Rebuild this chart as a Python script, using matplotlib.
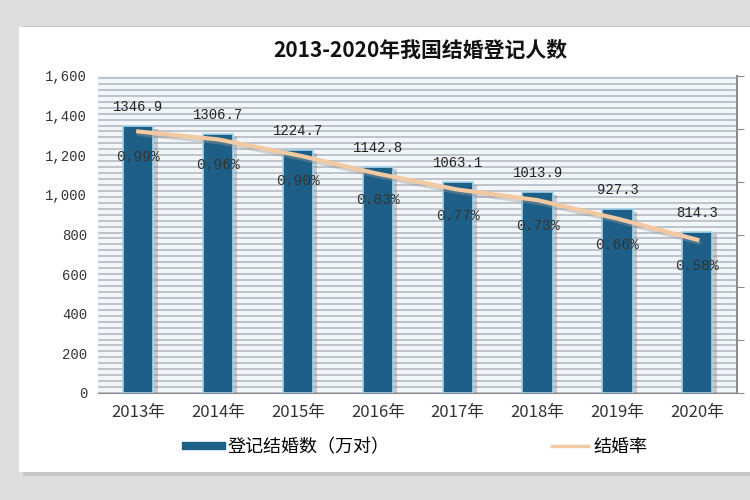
import matplotlib
matplotlib.use('Agg')
import matplotlib.pyplot as plt
import matplotlib.patheffects as pe
from matplotlib.lines import Line2D
from matplotlib.patches import Rectangle
import numpy as np

plt.rcParams['font.family'] = ['Noto Sans CJK SC', 'DejaVu Sans']

# data
years = ['2013年', '2014年', '2015年', '2016年', '2017年', '2018年', '2019年', '2020年']
marriages = [1346.9, 1306.7, 1224.7, 1142.8, 1063.1, 1013.9, 927.3, 814.3]  # 万对
rates = [0.99, 0.96, 0.90, 0.83, 0.77, 0.73, 0.66, 0.58]  # %

title = '2013-2020年我国结婚登记人数'
bar_name = '登记结婚数（万对）'
line_name = '结婚率'

bar_color = '#1d5f86'
line_color = '#f3c9a2'
num_font = 'Liberation Mono'

fig = plt.figure(figsize=(7.5, 5), dpi=100)
fig.patch.set_facecolor('#dedede')
# white card with soft shadow
fig.patches.append(Rectangle((0.03, 0.048), 0.98, 0.9, transform=fig.transFigure,
                             facecolor='#c8c8c8', edgecolor='none', zorder=-3))
fig.patches.append(Rectangle((0.025, 0.056), 0.98, 0.89, transform=fig.transFigure,
                             facecolor='white', edgecolor='none', zorder=-2))

ax = fig.add_axes([0.131, 0.214, 0.852, 0.634])
ax.set_facecolor('#f3f6f9')
x = np.arange(len(years))

# striped background grid
for gy in np.arange(0, 1601, 30):
    ax.axhline(gy, color='#b9bfc7', lw=1.3, zorder=0)

bars = ax.bar(x, marriages, width=0.38, color=bar_color, edgecolor='#a6d5ee',
              linewidth=1.2, zorder=2)
for b in bars:
    b.set_path_effects([pe.SimplePatchShadow(offset=(3, -2), shadow_rgbFace='#777777', alpha=0.35),
                        pe.Normal()])

for xi, v in zip(x, marriages):
    ax.annotate(f'{v:.1f}', (xi, v), xytext=(0, 19), textcoords='offset pixels',
                ha='center', va='center', fontsize=10, family=num_font, color='#222222', zorder=5)

ax.set_xlim(-0.5, len(years) - 0.5)
ax.set_ylim(0, 1600)
ax.set_yticks(np.arange(0, 1601, 200))
ax.set_yticklabels([f'{v:,}' for v in range(0, 1601, 200)], family=num_font, fontsize=10, color='#333333')
ax.set_xticks(x)
ax.set_xticklabels(years, fontsize=12, color='#333333')
ax.tick_params(axis='both', length=0, pad=8)
for s in ['top', 'left']:
    ax.spines[s].set_visible(False)
ax.spines['bottom'].set_color('#8c8c8c')
ax.spines['right'].set_visible(False)

ax2 = ax.twinx()
ax2.set_ylim(0, 1.2)
ax2.set_yticks(np.arange(0, 1.21, 0.2))
ax2.set_yticklabels([])
ax2.tick_params(axis='y', length=5, color='#8c8c8c', direction='out')
for s in ['top', 'left', 'bottom']:
    ax2.spines[s].set_visible(False)
ax2.spines['right'].set_color('#8c8c8c')
ax2.spines['right'].set_linewidth(1.5)

ax2.plot(x, rates, color=line_color, lw=3, zorder=3,
         path_effects=[pe.SimpleLineShadow(offset=(1, -2), shadow_color='#999999', alpha=0.4), pe.Normal()])
for xi, r in zip(x, rates):
    ax2.annotate(f'{r:.2f}%', (xi, r), xytext=(0, -26), textcoords='offset pixels',
                 ha='center', va='center', fontsize=10.5, family=num_font, color='#333333', zorder=5)

fig.text(0.56, 0.9, title, ha='center', va='center', fontsize=15, fontweight='bold', color='#111111')

handles = [Line2D([], [], color=bar_color, lw=6),
           Line2D([], [], color=line_color, lw=2.5)]
fig.legend(handles, [bar_name, line_name], loc='center', bbox_to_anchor=(0.556, 0.106),
           ncol=2, frameon=False, fontsize=13, columnspacing=9, handlelength=2, handletextpad=0.3)

fig.savefig('out.png', dpi=100, facecolor=fig.get_facecolor())
